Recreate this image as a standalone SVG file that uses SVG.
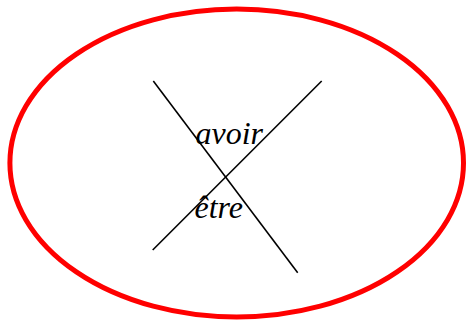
<svg xmlns="http://www.w3.org/2000/svg" width="466" height="320" viewBox="0 0 466 320">
<style>
.lbl{font-family:"Liberation Serif","Times New Roman",serif;font-style:italic;font-size:32px;fill:#000}
.ln{stroke:#000;stroke-width:1.6;fill:none}
</style>
<rect width="466" height="320" fill="#fff"/>
<g id="ellipse"><ellipse cx="236.7" cy="163" rx="226.8" ry="154" fill="none" stroke="#ff0000" stroke-width="5"/></g>
<g id="connectors">
<line class="ln" x1="153.3" y1="81" x2="297.7" y2="272.7"/>
<line class="ln" x1="321.7" y1="81" x2="152.7" y2="250"/>
</g>
<g id="avoir"><text class="lbl" x="195.5" y="143.5">avoir</text></g>
<g id="etre"><text class="lbl" x="194.5" y="218">être</text></g>
</svg>
